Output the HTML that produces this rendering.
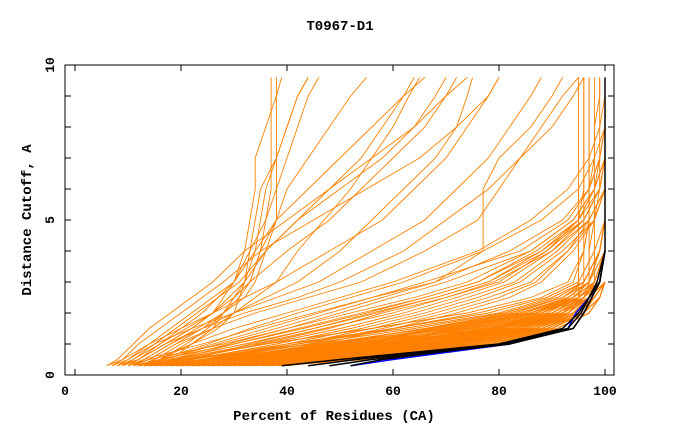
<!DOCTYPE html>
<html><head><meta charset="utf-8"><style>
body{margin:0;background:#fff;}
svg{display:block;font-family:"Liberation Mono","DejaVu Sans Mono",monospace;font-weight:bold;}
</style></head><body>
<svg id="chart" width="680" height="440" viewBox="0 0 680 440">
<text x="340" y="30" text-anchor="middle" font-size="14">T0967-D1</text>
<text x="334" y="420" text-anchor="middle" font-size="14">Percent of Residues (CA)</text>
<text transform="translate(31,220) rotate(-90)" text-anchor="middle" font-size="14">Distance Cutoff, A</text>
<g id="ticks"></g>
<g id="lines"></g>
<rect x="65" y="65" width="549" height="310" fill="none" stroke="#000" stroke-width="1"/>
</svg>
<script>
const cutoffs=[0.3,0.5,1,1.5,2,2.5,3,4,5,6,7,8,9,9.6];
const xTicks=[0,20,40,60,80,100];
const yTicks=[0,5,10];
const groupA=[
[12,20,45,72,88,95,99],[13,24,50,76,90,96,99],[14,26,52,78,91,96,99],[15,28,55,80,92,97,99],
[16,30,57,81,92,97,100],[17,32,58,82,93,97,100],[18,33,60,83,93,97,100],[19,35,61,84,94,98,100],
[20,36,62,85,94,98,100],[21,38,64,85,94,98,100],[22,39,65,86,95,98,100],[23,40,66,86,95,98,100],
[24,42,67,87,95,98,100],[25,43,68,87,95,98,100],[26,44,69,88,95,98,100],[27,45,70,88,96,98,100],
[28,46,71,89,96,99,100],[29,47,72,89,96,99,100],[30,48,73,89,96,99,100],[31,49,74,90,96,99,100],
[32,50,75,90,96,99,100],[33,51,76,90,96,99,100],[35,52,77,91,97,99,100],[36,53,78,91,97,99,100],
[38,55,79,91,97,99,100],[18,30,50,68,84,94,98,100],[20,32,53,70,86,95,99,100],[22,34,55,72,87,95,99,100],
[24,36,56,74,88,96,99,100],[15,27,48,66,82,92,97,100],[26,40,60,78,90,96,99,100],[28,42,63,80,91,97,99,100],
[30,44,66,82,92,97,99,100],[19,31,58,79,93,97,99,100],[23,37,62,83,94,97,99,100],
[14,22,42,62,80,90,96,99,100],[17,28,47,66,84,93,97,99,100],[21,33,52,71,86,94,98,100],
[13,21,40,60,78,89,95,98,100],[16,25,44,64,81,91,96,99,100],[18,27,46,67,83,92,96,99,100],
[20,29,49,69,85,93,97,99,100],[22,31,51,70,86,93,97,99,100],[24,33,54,73,87,94,97,99,100],
[26,35,57,75,89,95,98,100],[27,37,59,77,90,95,98,100],[29,39,61,79,91,96,98,100],
[31,41,63,81,92,96,98,100],[33,43,65,83,93,96,98,100],[34,45,67,84,93,97,99,100],
[37,47,69,85,94,97,99,100],[40,50,71,86,94,97,99,100]
];
const groupV=[
[15,25,48,70,88,94,95,95,95,96,96,96,96,96],[18,29,52,74,90,95,96,96,97,97,97,97,97,97],
[21,34,57,78,92,95,95,95,95,95,95,95,95,95],[24,38,62,82,93,96,97,97,98,98,98,98,98,98],
[27,41,66,85,94,97,98,98,98,99,99,99,99,99],[30,45,70,87,95,97,97,97,97,97,97,97,97,97],
[12,18,36,56,74,86,93,96,97,97,98,98,99,99],[16,24,42,60,76,88,94,96,96,96,96,96,96,96]
];
const groupB=[
[10,14,28,40,52,64,74,86,94,98,99,100],[11,16,30,43,55,66,76,87,95,99,100],[12,18,32,45,57,68,78,88,96,99,100],
[13,19,34,47,60,70,80,89,96,99,100],[14,20,36,50,62,72,81,90,97,100],[15,22,38,52,64,74,83,91,97,100],
[16,24,40,54,66,76,84,92,98,100],[11,17,26,36,46,56,66,84,93,97,99,100],[13,18,29,40,50,60,70,86,94,98,100],
[17,25,42,56,68,78,86,93,98,100],[12,16,25,33,42,52,62,77,88,95,98,100],[14,19,30,42,54,66,76,88,95,98,100],
[15,21,35,48,58,70,79,90,96,99,100],[10,13,24,34,45,56,68,82,92,97,99,100],[16,22,33,45,56,68,78,89,95,98,100],
[18,26,44,58,70,80,87,93,97,100],[12,15,22,30,40,50,60,76,86,93,97,99,100],[19,28,46,60,72,82,88,94,98,100],
[13,17,27,38,48,58,68,77,77,77,80,86,90,92]
];
const groupC=[
[6,8,11,14,18,22,26,32,40,48,56,64,70,74],[7,9,12,16,20,24,28,35,45,55,65,72,78,80],
[8,10,14,18,22,26,30,34,38,44,50,56,62,66],[9,11,15,19,23,27,31,36,42,48,54,58,62,64],
[10,12,16,20,24,27,30,33,36,38,40,42,44,46],[6,9,14,20,26,32,38,48,58,64,70,74,78,80],
[8,11,16,21,26,30,33,35,36,37,37,37,37,37],[9,12,17,22,26,29,32,34,35,36,38,40,42,44],
[11,13,18,24,30,36,42,50,56,62,68,72,74,75],[12,15,20,26,30,34,38,42,47,52,56,60,63,65],
[10,13,18,23,28,32,34,36,38,40,44,48,52,55],[7,10,15,22,30,38,46,56,66,72,78,82,86,88],
[13,16,22,27,30,31,32,33,34,35,38,40,42,44],[9,12,17,24,32,42,50,62,70,78,84,90,94,96],
[11,14,19,26,34,44,54,66,76,80,84,88,92,95],[8,12,17,22,26,28,30,32,33,34,34,36,38,39],
[10,14,19,24,28,31,33,35,38,38,38,38,38,38],[12,16,21,25,28,30,32,36,42,50,58,64,68,70],
[14,18,22,26,28,30,33,40,48,54,60,66,70,72]
];
const blackLines=[
[39,50,80,94,96,97.5,99,100,100,100,100,100,100,100],[44,53,81,93,95.5,97,98.5,100],
[48,56,82,94,96,97.5,99,100],[52,58,80,92,95,97,99,100]
];
const blueLines=[[52,60,82,93,94.5,97,99,100]];
const svg=document.getElementById('chart');
const NS='http://www.w3.org/2000/svg';
function xs(v){return 75+5.3*v;}
function ys(v){return 375-31*v;}
const tg=document.getElementById('ticks');
xTicks.forEach(v=>{
  const t=document.createElementNS(NS,'text');
  t.setAttribute('x',v===0?65:xs(v));t.setAttribute('y',395);t.setAttribute('text-anchor','middle');t.setAttribute('font-size','13');
  t.textContent=v;
  
  
  tg.appendChild(t);
  [[375,369],[65,71]].forEach(p=>{const l=document.createElementNS(NS,'line');
  l.setAttribute('x1',xs(v));l.setAttribute('x2',xs(v));l.setAttribute('y1',p[0]);l.setAttribute('y2',p[1]);l.setAttribute('stroke','#000');
  
  
  tg.appendChild(l);});
});
yTicks.forEach(v=>{
  const t=document.createElementNS(NS,'text');
  t.setAttribute('transform','translate(54,'+ys(v)+') rotate(-90)');t.setAttribute('text-anchor','middle');t.setAttribute('font-size','13');
  t.textContent=v;
  
  
  tg.appendChild(t);
});
for(let v=0;v<=10;v++){
  [[65,71],[614,608]].forEach(p=>{const l=document.createElementNS(NS,'line');
  l.setAttribute('x1',p[0]);l.setAttribute('x2',p[1]);l.setAttribute('y1',ys(v));l.setAttribute('y2',ys(v));l.setAttribute('stroke','#000');
  
  
  tg.appendChild(l);});
}
const lg=document.getElementById('lines');
function draw(rows,color,w,name){
  rows.forEach(r=>{
    const pts=r.map((v,i)=>xs(v).toFixed(1)+','+ys(cutoffs[i]).toFixed(1)).join(' ');
    const p=document.createElementNS(NS,'polyline');
    p.setAttribute('points',pts);p.setAttribute('fill','none');p.setAttribute('stroke',color);p.setAttribute('stroke-width',w);
    
    
    lg.appendChild(p);
  });
}
draw(groupC,'#ff8000',0.9,'model-line');
draw(groupB,'#ff8000',0.9,'model-line');
draw(groupV,'#ff8000',0.9,'model-line');
draw(groupA,'#ff8000',1,'model-line');
draw(blueLines,'#0000ff',1.5,'highlight-line-blue');
draw(blackLines,'#000',1.5,'highlight-line-black');
</script>
</body></html>
